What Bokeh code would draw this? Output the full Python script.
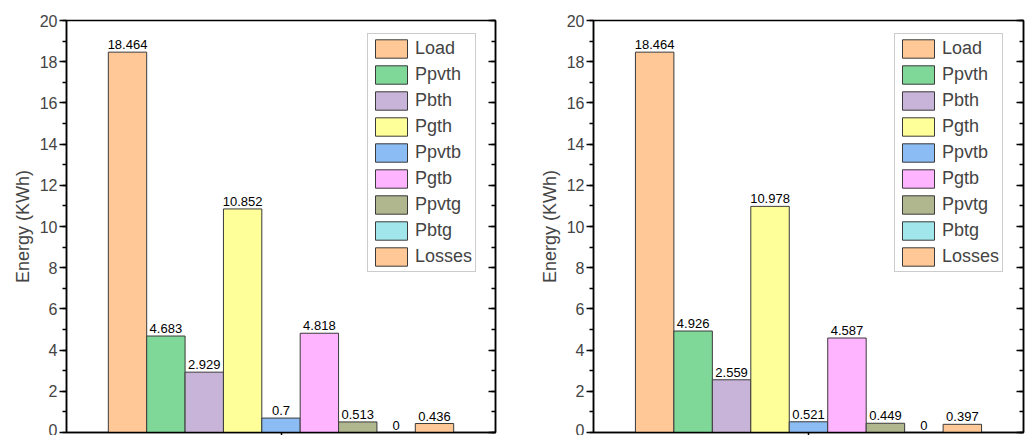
from bokeh.plotting import figure
from bokeh.layouts import row
from bokeh.models import (ColumnDataSource, Range1d, LinearAxis, SingleIntervalTicker,
                          FixedTicker, Legend, LegendItem)
from bokeh.core.properties import value
from bokeh.embed import file_html
from bokeh.resources import INLINE

# Energy breakdown for two scenarios
categories = ["Load", "Ppvth", "Pbth", "Pgth", "Ppvtb", "Pgtb", "Ppvtg", "Pbtg", "Losses"]
energy_a = [18.464, 4.683, 2.929, 10.852, 0.7, 4.818, 0.513, 0, 0.436]
energy_b = [18.464, 4.926, 2.559, 10.978, 0.521, 4.587, 0.449, 0, 0.397]
colors = ["#FFC896", "#80D898", "#C8B4D8", "#FFFF99", "#8CBCF4",
          "#FFB4FF", "#B0B68E", "#A0E6EA", "#FFC896"]
y_ticks = list(range(0, 21, 2))

FONT = "Liberation Sans"


def make_chart(values, border_left, frame_w, border_right):
    p = figure(frame_width=frame_w, frame_height=412,
               min_border_left=border_left, min_border_right=border_right,
               min_border_top=20, min_border_bottom=0,
               x_range=Range1d(-1.59, 9.59), y_range=Range1d(y_ticks[0], y_ticks[-1]),
               toolbar_location=None, output_backend="svg",
               background_fill_color="white", border_fill_color="white")
    p.grid.visible = False
    p.outline_line_color = "black"
    p.outline_line_width = 1.5

    xs = list(range(len(categories)))
    src = ColumnDataSource(dict(x=xs, top=values,
                                label=[f"{v:g}" for v in values]))

    renderers = []
    for i, cat in enumerate(categories):
        r = p.vbar(x=[xs[i]], top=[values[i]], width=1.0, fill_color=colors[i],
                   line_color="#3a3a3a", line_width=1)
        renderers.append((cat, r))

    p.text(x="x", y="top", text="label", source=src, text_align="center",
           text_baseline="bottom", y_offset=-3, text_font_size=value("13px"),
           text_color="black", text_font=value(FONT))

    # left axis
    yax = p.yaxis[0]
    yax.ticker = SingleIntervalTicker(interval=2, num_minor_ticks=2)
    yax.axis_label = "Energy (KWh)"
    yax.axis_label_text_font = FONT
    yax.axis_label_text_font_size = "18px"
    yax.axis_label_text_font_style = "normal"
    yax.axis_label_standoff = 4
    yax.major_label_text_font = FONT
    yax.major_label_text_font_size = "16px"
    yax.major_label_standoff = 2
    yax.major_tick_out = 7
    yax.major_tick_in = 0
    yax.minor_tick_out = 4
    yax.minor_tick_in = 0
    yax.axis_line_width = 1.5
    yax.major_tick_line_width = 1.5
    yax.minor_tick_line_width = 1.5

    # right axis: inward ticks, no labels
    rax = LinearAxis(ticker=SingleIntervalTicker(interval=2, num_minor_ticks=2),
                     major_label_overrides={t: "" for t in y_ticks},
                     major_label_text_font_size="16px", major_label_standoff=0,
                     major_tick_in=7, major_tick_out=0, minor_tick_in=4, minor_tick_out=0,
                     axis_line_width=1.5, major_tick_line_width=1.5,
                     minor_tick_line_width=1.5)
    p.add_layout(rax, "right")

    # bottom axis: single centre tick
    xax = p.xaxis[0]
    xax.ticker = FixedTicker(ticks=[4])
    xax.major_label_overrides = {4: ""}
    xax.major_label_text_font_size = "1px"
    xax.major_label_standoff = 0
    xax.major_tick_out = 3
    xax.major_tick_in = 0
    xax.minor_tick_out = 0
    xax.axis_line_width = 1.5
    xax.major_tick_line_width = 1.5

    legend = Legend(items=[LegendItem(label=c, renderers=[r]) for c, r in renderers],
                    location=(301, 160), glyph_width=40, glyph_height=23,
                    label_text_font=FONT, label_text_font_size="18px",
                    label_standoff=4, spacing=3, padding=3, margin=0,
                    border_line_color="#999999", border_line_width=1,
                    background_fill_alpha=1.0)
    p.add_layout(legend, "center")
    return p


left = make_chart(energy_a, 66, 429, 15)
right = make_chart(energy_b, 83, 430, 5)

layout = row(left, right)
open("out.html", "w").write(file_html(layout, INLINE))
